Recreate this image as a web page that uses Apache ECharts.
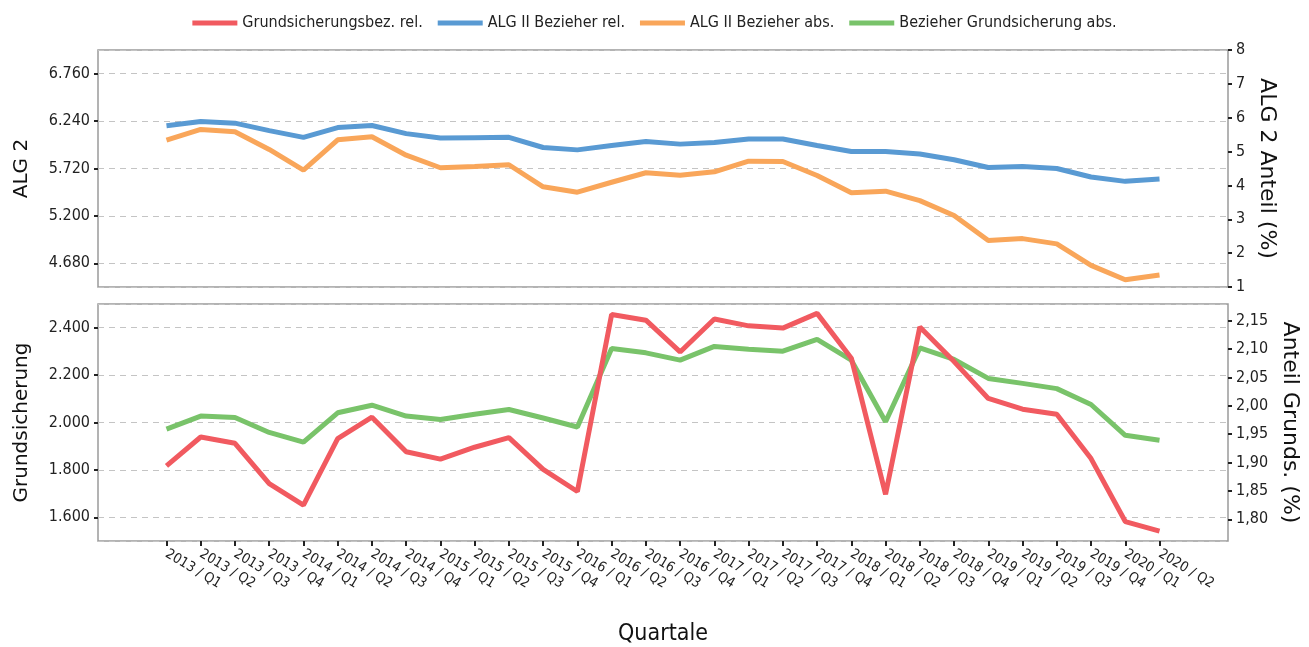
<!DOCTYPE html>
<html>
<head>
<meta charset="utf-8">
<script src="https://cdn.jsdelivr.net/npm/echarts@6/dist/echarts.min.js"></script>
<style>
html, body { margin: 0; padding: 0; background: #fff; }
#main { width: 1309px; height: 647px; }
</style>
</head>
<body>
<div id="main"></div>
<script>
// Quartale 2013/Q1 .. 2020/Q2
var quartale = [
  '2013 / Q1', '2013 / Q2', '2013 / Q3', '2013 / Q4',
  '2014 / Q1', '2014 / Q2', '2014 / Q3', '2014 / Q4',
  '2015 / Q1', '2015 / Q2', '2015 / Q3', '2015 / Q4',
  '2016 / Q1', '2016 / Q2', '2016 / Q3', '2016 / Q4',
  '2017 / Q1', '2017 / Q2', '2017 / Q3', '2017 / Q4',
  '2018 / Q1', '2018 / Q2', '2018 / Q3', '2018 / Q4',
  '2019 / Q1', '2019 / Q2', '2019 / Q3', '2019 / Q4',
  '2020 / Q1', '2020 / Q2'
];

// Anteil Grundsicherung (%), rechte Achse unten
var grundsicherungRel = [1.894, 1.945, 1.934, 1.863, 1.825, 1.942, 1.980, 1.919, 1.906, 1.927,
  1.944, 1.888, 1.849, 2.161, 2.151, 2.095, 2.153, 2.141, 2.137, 2.163,
  2.084, 1.844, 2.139, 2.078, 2.013, 1.994, 1.985, 1.907, 1.796, 1.779];

// Anteil ALG II (%), rechte Achse oben
var algRel = [5.76, 5.89, 5.84, 5.62, 5.42, 5.71, 5.77, 5.53, 5.40, 5.41,
  5.42, 5.12, 5.05, 5.18, 5.30, 5.22, 5.27, 5.37, 5.37, 5.18,
  5.00, 5.00, 4.93, 4.76, 4.53, 4.56, 4.50, 4.25, 4.12, 4.19];

// ALG II Bezieher absolut (Tsd.), linke Achse oben
var algAbs = [6031, 6149, 6123, 5929, 5701, 6035, 6068, 5866, 5728, 5742,
  5761, 5519, 5460, 5569, 5673, 5646, 5684, 5800, 5797, 5643,
  5453, 5471, 5368, 5204, 4929, 4951, 4893, 4657, 4500, 4552];

// Bezieher Grundsicherung absolut (Tsd.), linke Achse unten
var grundsicherungAbs = [1972, 2027, 2021, 1958, 1917, 2041, 2073, 2027, 2013, 2035,
  2055, 2019, 1981, 2312, 2294, 2263, 2321, 2309, 2301, 2351,
  2263, 2003, 2315, 2266, 2186, 2165, 2143, 2076, 1946, 1925];

var seriesNames = ['Grundsicherungsbez. rel.', 'ALG II Bezieher rel.', 'ALG II Bezieher abs.', 'Bezieher Grundsicherung abs.'];

// zwei leere Plätze links und rechts, wie im Original
var pad = ['', ''];
var xCats = pad.concat(quartale, pad);
function padded(arr) { return [null, null].concat(arr, [null, null]); }

var narrow = "'Liberation Sans Narrow', 'DejaVu Sans Condensed', sans-serif";
var wide = "'DejaVu Sans', sans-serif";

function tausend(v) {
  return String(Math.round(v)).replace(/\B(?=(\d{3})+(?!\d))/g, '.');
}
function komma(v) {
  return v.toFixed(2).replace('.', ',');
}

var dashed = { show: true, lineStyle: { color: '#c4c4c4', type: [6, 5], width: 1 } };
var tick = { show: true, length: 4, lineStyle: { color: '#222', width: 2 } };
var lbl = { color: '#222', fontFamily: narrow, fontSize: 16 };
var nameStyle = { fontFamily: wide, fontSize: 20, color: '#111' };
var nameStyleR = { fontFamily: wide, fontSize: 22, color: '#111' };

var myChart = echarts.init(document.getElementById('main'));
var option = {
  animation: false,
  legend: {
    data: seriesNames,
    top: 10,
    left: 'center',
    icon: 'rect',
    itemWidth: 45,
    itemHeight: 5,
    itemGap: 15,
    textStyle: { fontFamily: narrow, fontSize: 16, color: '#222' }
  },
  grid: [
    { left: 98, right: 81, top: 50, height: 237, show: true, borderColor: '#9a9a9a', borderWidth: 1.5 },
    { left: 98, right: 81, top: 304, height: 237, show: true, borderColor: '#9a9a9a', borderWidth: 1.5 }
  ],
  xAxis: [
    {
      type: 'category', gridIndex: 0, data: xCats, boundaryGap: false,
      axisLine: { show: false }, axisTick: { show: false }, axisLabel: { show: false }, splitLine: { show: false }
    },
    {
      type: 'category', gridIndex: 1, data: xCats, boundaryGap: false,
      name: 'Quartale', nameLocation: 'middle', nameGap: 82,
      nameTextStyle: { fontFamily: "'DejaVu Sans Condensed', sans-serif", fontSize: 23, color: '#111' },
      axisLine: { show: false },
      axisTick: { show: true, length: 5, lineStyle: { color: '#222', width: 2 },
        interval: function (i, v) { return v !== ''; } },
      axisLabel: { interval: 0, rotate: -31, margin: 12, color: '#222', fontFamily: narrow, fontSize: 14 },
      splitLine: { show: false }
    }
  ],
  yAxis: [
    {
      type: 'value', gridIndex: 0, position: 'left',
      min: 4420, max: 7020, minInterval: 520, maxInterval: 520,
      name: 'ALG 2', nameLocation: 'middle', nameGap: 66, nameRotate: 90,
      nameTextStyle: nameStyle,
      axisLine: { show: false }, axisTick: tick,
      axisLabel: Object.assign({ formatter: tausend, showMinLabel: false, showMaxLabel: false, margin: 8 }, lbl),
      splitLine: dashed
    },
    {
      type: 'value', gridIndex: 0, position: 'right',
      min: 1, max: 8, interval: 1,
      name: 'ALG 2 Anteil (%)', nameLocation: 'middle', nameGap: 28, nameRotate: -90,
      nameTextStyle: nameStyleR,
      axisLine: { show: false }, axisTick: tick,
      axisLabel: Object.assign({ margin: 8 }, lbl),
      splitLine: { show: false }
    },
    {
      type: 'value', gridIndex: 1, position: 'left',
      min: 1500, max: 2500, minInterval: 200, maxInterval: 200,
      name: 'Grundsicherung', nameLocation: 'middle', nameGap: 66, nameRotate: 90,
      nameTextStyle: nameStyle,
      axisLine: { show: false }, axisTick: tick,
      axisLabel: Object.assign({ formatter: tausend, showMinLabel: false, showMaxLabel: false, margin: 8 }, lbl),
      splitLine: dashed
    },
    {
      type: 'value', gridIndex: 1, position: 'right',
      min: 1.7617, max: 2.1795, minInterval: 0.05, maxInterval: 0.05,
      name: 'Anteil Grunds. (%)', nameLocation: 'middle', nameGap: 51, nameRotate: -90,
      nameTextStyle: nameStyleR,
      axisLine: { show: false }, axisTick: tick,
      axisLabel: Object.assign({ formatter: komma, showMinLabel: false, showMaxLabel: false, margin: 8 }, lbl),
      splitLine: { show: false }
    }
  ],
  series: [
    { name: seriesNames[2], type: 'line', xAxisIndex: 0, yAxisIndex: 0, data: padded(algAbs),
      showSymbol: false, lineStyle: { width: 5 }, color: '#F9A65A' },
    { name: seriesNames[1], type: 'line', xAxisIndex: 0, yAxisIndex: 1, data: padded(algRel),
      showSymbol: false, lineStyle: { width: 5 }, color: '#599AD3' },
    { name: seriesNames[3], type: 'line', xAxisIndex: 1, yAxisIndex: 2, data: padded(grundsicherungAbs),
      showSymbol: false, lineStyle: { width: 5 }, color: '#79C36A' },
    { name: seriesNames[0], type: 'line', xAxisIndex: 1, yAxisIndex: 3, data: padded(grundsicherungRel),
      showSymbol: false, lineStyle: { width: 5 }, color: '#F15A60' }
  ]
};
myChart.setOption(option);

window.onresize = function () {
  myChart.resize();
};
</script>
</body>
</html>
